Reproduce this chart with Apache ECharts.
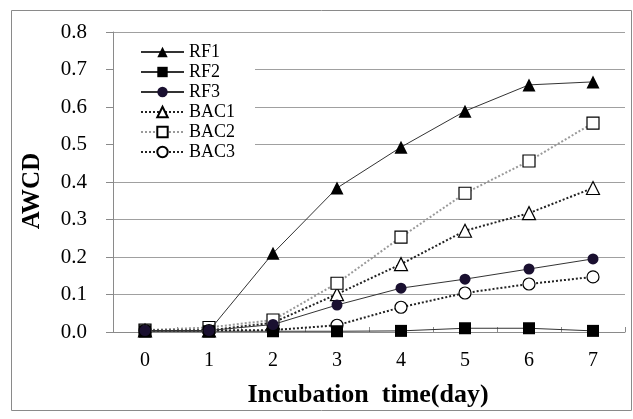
<!DOCTYPE html>
<html>
<head>
<meta charset="utf-8">
<script src="https://cdn.jsdelivr.net/npm/echarts@6/dist/echarts.min.js"></script>
<style>html,body{margin:0;padding:0;background:#fff;}#c{width:633px;height:419px;}</style>
</head>
<body>
<div id="c"></div>
<script>
var days = ['0','1','2','3','4','5','6','7'];
var RF1  = [0.003, 0.003, 0.210, 0.384, 0.493, 0.589, 0.659, 0.667];
var RF2  = [0.002, 0.002, 0.002, 0.002, 0.003, 0.010, 0.010, 0.003];
var RF3  = [0.004, 0.004, 0.020, 0.072, 0.117, 0.141, 0.168, 0.195];
var BAC1 = [0.004, 0.004, 0.025, 0.101, 0.181, 0.270, 0.317, 0.384];
var BAC2 = [0.005, 0.012, 0.032, 0.130, 0.253, 0.370, 0.456, 0.557];
var BAC3 = [0.004, 0.004, 0.005, 0.018, 0.066, 0.104, 0.128, 0.147];
var yTicks = ['0.0','0.1','0.2','0.3','0.4','0.5','0.6','0.7','0.8'];

var serif = "'Liberation Serif','Times New Roman',serif";
var chart = echarts.init(document.getElementById('c'), null, {renderer:'canvas'});

function mk(name, data, symbol, size, fill, lineColor, lineType, lineWidth, z){
  var filled = fill !== '#fff';
  return {
    name: name, type: 'line', data: data, symbol: symbol, symbolSize: size,
    showAllSymbol: true, animation: false, z: z,
    itemStyle: {color: fill, borderColor: '#000', borderWidth: filled ? 0 : 1.2},
    lineStyle: {color: lineColor, type: lineType, width: lineWidth}
  };
}

chart.setOption({
  animation: false,
  backgroundColor: '#fff',
  grid: {left: 113, top: 32, width: 512, height: 300, containLabel: false},
  graphic: [
    {type:'rect', shape:{x:11.5, y:10.5, width:620, height:400}, style:{fill:'none', stroke:'#8a8a8a', lineWidth:1}, z:-10},
    {type:'text', x:33, y:191, rotation: Math.PI/2, z: 10,
     style:{text:'AWCD', fontFamily: serif, fontSize: 25, fontWeight:'bold', fill:'#000', align:'center', verticalAlign:'middle'}},
    {type:'text', x:368, y:395, z: 10,
     style:{text:'Incubation  time(day)', fontFamily: serif, fontSize: 26, fontWeight:'bold', fill:'#000', align:'center', verticalAlign:'middle'}}
  ],
  legend: {
    left: 114, top: 37, orient: 'vertical',
    padding: [6, 20, 6, 26],
    backgroundColor: '#fff',
    itemWidth: 43, itemHeight: 13, itemGap: 2,
    textStyle: {fontFamily: serif, fontSize: 18, lineHeight: 17, color: '#000'},
    data: ['RF1','RF2','RF3','BAC1','BAC2','BAC3']
  },
  xAxis: {
    type: 'category', data: days, boundaryGap: true,
    axisLine: {lineStyle: {color: '#8a8a8a', width: 1}},
    axisTick: {show: true, inside: true, length: 5, lineStyle: {color: '#8a8a8a'}},
    axisLabel: {fontFamily: serif, fontSize: 20, color: '#000', margin: 19}
  },
  yAxis: {
    type: 'value', min: 0, max: 0.8, interval: 0.1,
    axisLine: {show: true, lineStyle: {color: '#8a8a8a', width: 1}},
    axisTick: {show: true, length: 7, lineStyle: {color: '#8a8a8a'}},
    splitLine: {lineStyle: {color: '#a0a0a0', width: 1}},
    axisLabel: {fontFamily: serif, fontSize: 21, color: '#000', margin: 26,
      formatter: function(v){ return yTicks[Math.round(v*10)]; }}
  },
  series: [
    mk('RF1', RF1, 'triangle', 13, '#000', '#333', 'solid', 1, 6),
    mk('RF2', RF2, 'rect', 12, '#000', '#333', 'solid', 1, 6),
    mk('RF3', RF3, 'circle', 11, '#1a1030', '#333', 'solid', 1, 6),
    mk('BAC1', BAC1, 'triangle', 13, '#fff', '#222', [2,2], 2, 5),
    mk('BAC2', BAC2, 'rect', 12, '#fff', '#9a9a9a', [2,2], 2, 5),
    mk('BAC3', BAC3, 'circle', 12, '#fff', '#222', [2,2], 2, 5)
  ]
});
</script>
</body>
</html>
